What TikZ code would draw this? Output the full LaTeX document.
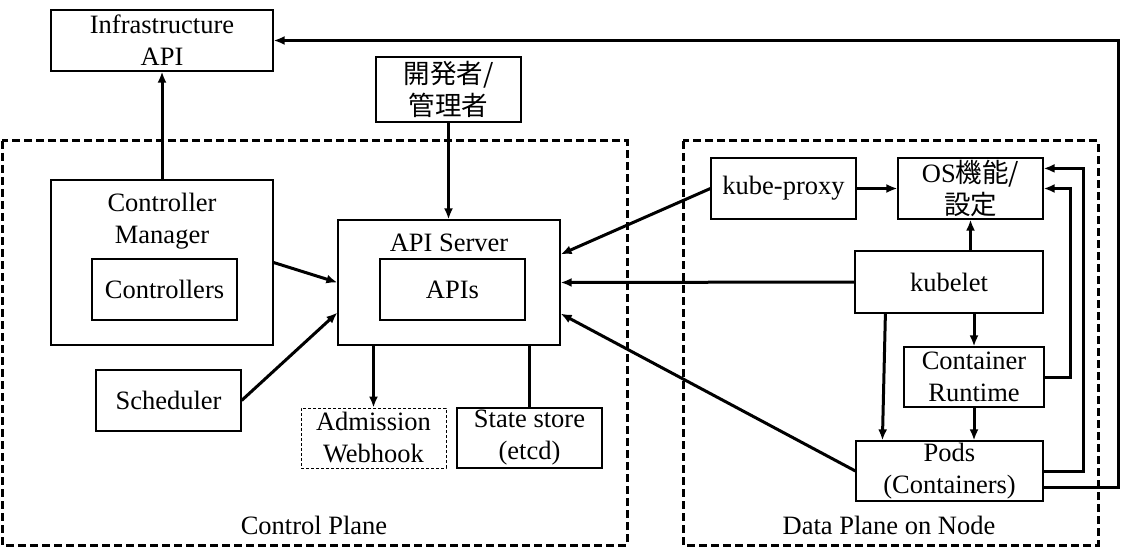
\documentclass[tikz,border=0pt]{standalone}
\usepackage{fontspec}
\setmainfont{Liberation Serif}
\newfontfamily\jp{Noto Sans CJK JP}
\usetikzlibrary{arrows.meta,positioning,calc}

\begin{document}
\begin{tikzpicture}[x=1pt, y=-1pt, font=\fontsize{26.5}{32}\selectfont, >={Latex[length=11pt,width=9pt]},
  b/.style={draw, line width=1.2pt, minimum width=#1, minimum height=61, inner sep=1pt, align=center}, b/.default=145,
  frame/.style={draw, line width=3pt, dash pattern=on 8pt off 4pt}, link/.style={line width=3pt}]
\useasboundingbox (0,0) rectangle (1121,556);
% planes
\draw[frame] (2,141) rectangle (627,545); \node (cpl) at (314,525) {Control Plane};
\draw[frame] (683,141) rectangle (1098,545); \node (dpl) at (889,525) {Data Plane on Node};
% control plane side
\node[b=222] (infra) at (162,40.5) {Infrastructure\\API}; \node[b, minimum height=65] (dev) at (448.5,89.5) {{\jp 開発者/}\\{\jp 管理者}};
\node[b=222, minimum height=165, label={[anchor=north, align=center, yshift=-10pt]north:{Controller\\Manager}}] (cm) at (162,262.5) {};
\node[b] (ctrl) at (164.5,289.5) {Controllers}; \node[b] (sched) at (168.5,400.5) {Scheduler};
\node[b=222, minimum height=125, label={[anchor=north, yshift=-11pt]north:API Server}] (api) at (449,282.5) {};
\node[b] (apis) at (452.5,289.5) {APIs};
\node[b, minimum height=60, line width=0.8pt, dash pattern=on 3pt off 2pt] (adm) at (373.5,438) {Admission\\Webhook};
\node[b, minimum height=60] (etcd) at (529.5,438) {State store\\(etcd)};
% node side
\node[b] (proxy) at (783.5,188.5) {kube-proxy}; \node[b] (os) at (970.5,188.5) {OS{\jp 機能/}\\{\jp 設定}};
\node[b=188, minimum height=62] (kubelet) at (949,282) {kubelet};
\node[b=140, minimum height=60] (cri) at (974,377) {Container\\Runtime};
\node[b=187, minimum height=60] (pods) at (949.5,471) {Pods\\(Containers)};
% links
\draw[link,->] (cm) -- (infra); \draw[link,->] (dev.south) -- (dev.south |- api.north);
\draw[link,->] (cm.east) -- (api.west); \draw[link,->] (sched.east) -- ($(api.south west)+(0,-33)$);
\draw[link,->] (api.south -| adm.north) -- (adm.north); \draw[link] (api.south -| etcd.north) -- (etcd.north);
\draw[link,->] (proxy.west) -- ($(api.north east)+(0,35)$); \draw[link,->] (kubelet.west) -- (api.east);
\draw[link,->] (pods.west) -- ($(api.south east)+(0,-32)$);
\draw[link,->] (proxy) -- (os); \draw[link,->] (kubelet.north -| os.south) -- (os.south);
\draw[link,->] (kubelet.south -| cri.north) -- (cri.north); \draw[link,->] (cri.south) -- (cri.south |- pods.north);
\draw[link,->] ($(kubelet.south west)+(31,0)$) -- ($(pods.north west)+(27,0)$);
\draw[link,->] (cri.east) -- ++(26,0) |- (os.east);
\draw[link,->] (pods.east) -- ++(40,0) |- ($(os.north east)+(0,11)$);
\draw[link,->] ($(pods.south east)+(0,-14)$) -- ++(75,0) |- (infra.east);
\end{tikzpicture}
\end{document}
